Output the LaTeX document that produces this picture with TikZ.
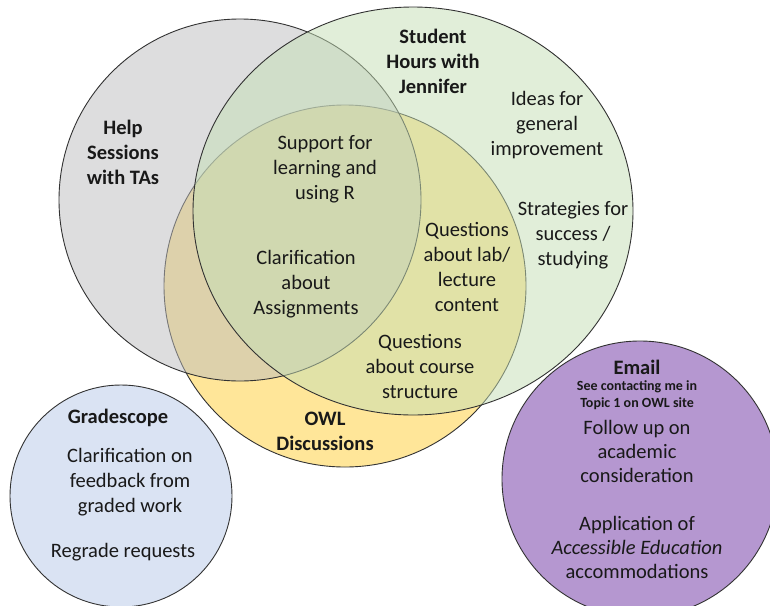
\documentclass[tikz,border=0pt]{standalone}
\usepackage{fontspec}
\setmainfont{Carlito}
\definecolor{owlyellow}{RGB}{255,230,153}
\definecolor{tagray}{RGB}{189,189,190}
\definecolor{shgreen}{RGB}{197,223,181}
\definecolor{gsblue}{RGB}{218,227,243}
\definecolor{empurple}{RGB}{181,151,208}
\definecolor{edge}{RGB}{50,50,50}
\tikzset{
  venn/.style={draw=edge, line width=0.9pt},
  lbl/.style={align=center, inner sep=0pt, font=\fontsize{20.5}{25}\selectfont, text=black!90},
  ttl/.style={lbl, font=\fontsize{20.5}{25}\selectfont\bfseries},
  small/.style={align=center, inner sep=0pt, font=\fontsize{14}{17}\selectfont\bfseries, text=black!90}
}
\begin{document}
\begin{tikzpicture}[x=1pt,y=-1pt]
\useasboundingbox (0,0) rectangle (770,605);
\clip (0,0) rectangle (770,605);
\fill[white] (0,0) rectangle (770,605);
% OWL discussions (back)
\path[venn, fill=owlyellow] (345,286) circle[radius=181pt];
% Help sessions
\path[venn, fill=tagray, fill opacity=0.5] (240,200) circle[radius=181pt];
% Student hours
\path[venn, fill=shgreen, fill opacity=0.5] (413,211) ellipse[x radius=220pt, y radius=204pt];
% Gradescope
\path[venn, fill=gsblue] (121,496) circle[radius=111pt];
% Email
\path[venn, fill=empurple] (640,479) circle[radius=138pt];

% labels
\node[ttl] (help) at (123,152) {Help\\Sessions\\with TAs};
\node[ttl] (stud) at (433,61) {Student\\Hours with\\Jennifer};
\node[lbl] (ideas) at (547,125) {Ideas for\\general\\improvement};
\node[lbl] (strat) at (573,235) {Strategies for\\success /\\studying};
\node[lbl] (qlab) at (467,267) {Questions\\about lab/\\lecture\\content};
\node[lbl] (qcourse) at (420,366) {Questions\\about course\\structure};
\node[ttl] (owl) at (325,431) {OWL\\Discussions};
\node[lbl] (supp) at (325,169) {Support for\\learning and\\using R};
\node[lbl] (clarA) at (306,284) {Clarification\\about\\Assignments};
\node[ttl] (grade) at (118,418) {Gradescope};
\node[lbl] (clarF) at (130,482) {Clarification on\\feedback from\\graded work};
\node[lbl] (regrade) at (123,552) {Regrade requests};
\node[ttl] (email) at (637,367) {Email};
\node[small] (see) at (637,395) {See contacting me in\\Topic 1 on OWL site};
\node[lbl, font=\fontsize{20.5}{24}\selectfont] (follow) at (637,451) {Follow up on\\academic\\consideration};
\node[lbl, font=\fontsize{20.5}{24}\selectfont] (appl) at (637,547) {Application of\\\textit{Accessible Education}\\accommodations};
\end{tikzpicture}
\end{document}
